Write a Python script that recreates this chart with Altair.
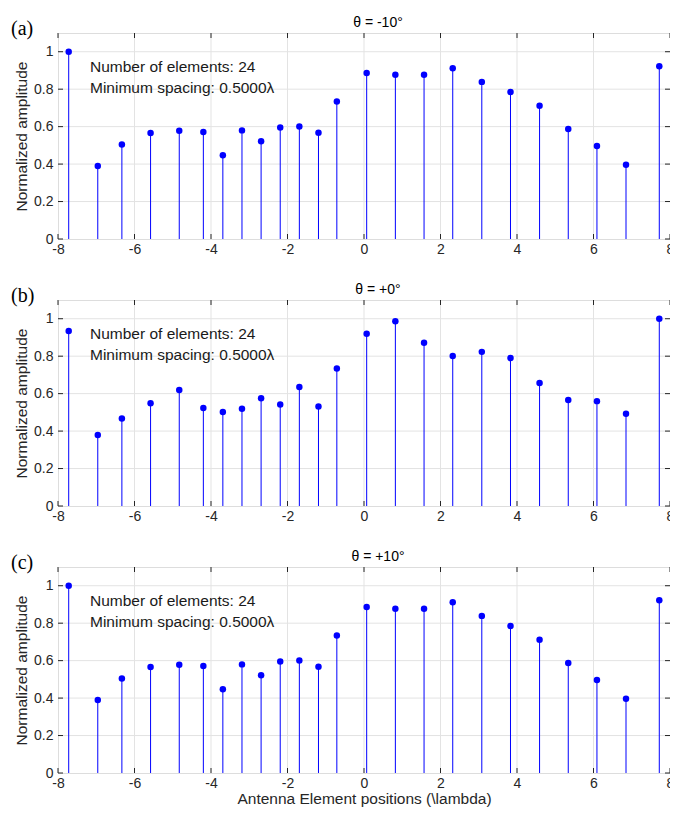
import altair as alt
import pandas as pd

positions = [-7.72, -6.96, -6.33, -5.58, -4.83, -4.20, -3.69, -3.19, -2.69, -2.19, -1.69, -1.19,
             -0.71, 0.07, 0.82, 1.57, 2.32, 3.08, 3.83, 4.59, 5.34, 6.09, 6.85, 7.72]
amp_a = [1.000, 0.390, 0.504, 0.566, 0.578, 0.571, 0.447, 0.580, 0.522, 0.595, 0.601, 0.567,
         0.734, 0.886, 0.877, 0.877, 0.912, 0.839, 0.785, 0.711, 0.587, 0.497, 0.396, 0.923]
amp_b = [0.934, 0.379, 0.467, 0.549, 0.619, 0.523, 0.502, 0.519, 0.575, 0.542, 0.635, 0.531,
         0.734, 0.920, 0.987, 0.872, 0.801, 0.823, 0.790, 0.657, 0.566, 0.560, 0.493, 1.000]
amp_c = [1.000, 0.390, 0.504, 0.566, 0.578, 0.571, 0.447, 0.580, 0.522, 0.595, 0.601, 0.567,
         0.734, 0.886, 0.877, 0.877, 0.912, 0.839, 0.785, 0.711, 0.587, 0.497, 0.396, 0.923]
titles = ["θ = -10°", "θ = +0°", "θ = +10°"]
labels = ["(a)", "(b)", "(c)"]
x_ticks = [-8, -6, -4, -2, 0, 2, 4, 6, 8]
y_ticks = [0, 0.2, 0.4, 0.6, 0.8, 1]
info_lines = ["Number of elements: 24", "Minimum spacing: 0.5000λ"]
x_title = "Antenna Element positions (\\lambda)"
y_title = "Normalized amplitude"

FONT = "Liberation Sans"
W, H = 612, 206
DARK = "#262626"
GRID = "#e3e3e3"


def panel(amps, title, label, last):
    df = pd.DataFrame({"x": positions, "y": amps})
    xscale = alt.Scale(domain=[-8, 8], nice=False)
    yscale = alt.Scale(domain=[0, 1.1], nice=False)
    xenc = alt.X("x:Q", scale=xscale,
                 axis=alt.Axis(values=x_ticks, title=x_title if last else None,
                               labelExpr="'' + datum.value",
                               labelFontSize=14, labelFont=FONT, labelColor=DARK,
                               titleFont=FONT, titleFontSize=15.5, titleFontWeight="normal",
                               titleColor=DARK, titlePadding=1,
                               ticks=False, labelPadding=3, domain=False, grid=False,
                               labelFlush=False))
    yenc = alt.Y("y:Q", scale=yscale,
                 axis=alt.Axis(values=y_ticks, title=y_title,
                               labelExpr="'' + datum.value",
                               labelFontSize=14, labelFont=FONT, labelColor=DARK,
                               titleFont=FONT, titleFontSize=15.5, titleFontWeight="normal",
                               titleColor=DARK, titlePadding=4,
                               ticks=False, labelPadding=5, domain=False, grid=False,
                               labelFlush=False))

    xg = pd.DataFrame({"x": [v for v in x_ticks if -8 < v < 8]})
    yg = pd.DataFrame({"y": [v for v in y_ticks if 0 < v < 1.1]})
    xt = pd.DataFrame({"x": x_ticks})
    yt = pd.DataFrame({"y": y_ticks})

    gridx = alt.Chart(xg).mark_rule(color=GRID, strokeWidth=1).encode(
        x=alt.X("x:Q", scale=xscale), y=alt.value(0), y2=alt.value(H))
    gridy = alt.Chart(yg).mark_rule(color=GRID, strokeWidth=1).encode(
        y=alt.Y("y:Q", scale=yscale), x=alt.value(0), x2=alt.value(W))
    tick_b = alt.Chart(xt).mark_rule(color=DARK, strokeWidth=1).encode(
        x=alt.X("x:Q", scale=xscale), y=alt.value(H), y2=alt.value(H - 5))
    tick_t = alt.Chart(xt).mark_rule(color=DARK, strokeWidth=1).encode(
        x=alt.X("x:Q", scale=xscale), y=alt.value(0), y2=alt.value(5))
    tick_l = alt.Chart(yt).mark_rule(color=DARK, strokeWidth=1).encode(
        y=alt.Y("y:Q", scale=yscale), x=alt.value(0), x2=alt.value(5))
    tick_r = alt.Chart(yt).mark_rule(color=DARK, strokeWidth=1).encode(
        y=alt.Y("y:Q", scale=yscale), x=alt.value(W), x2=alt.value(W - 5))

    base = alt.Chart(df)
    stems = base.mark_rule(color="#0000ff", strokeWidth=1).encode(x=xenc, y=yenc, y2=alt.datum(0))
    dots = base.mark_circle(color="#0000ff", size=42, opacity=1).encode(x="x:Q", y="y:Q")

    info1 = alt.Chart(pd.DataFrame({"t": [info_lines[0]]})).mark_text(
        align="left", baseline="alphabetic", font=FONT, fontSize=15.5, color="#1a1a1a"
    ).encode(x=alt.value(32), y=alt.value(39), text="t:N")
    info2 = alt.Chart(pd.DataFrame({"t": [info_lines[1]]})).mark_text(
        align="left", baseline="alphabetic", font=FONT, fontSize=15.5, color="#1a1a1a"
    ).encode(x=alt.value(32), y=alt.value(60), text="t:N")
    lab = alt.Chart(pd.DataFrame({"t": [label]})).mark_text(
        align="left", baseline="alphabetic", font="Liberation Serif", fontSize=20, color="#000000"
    ).encode(x=alt.value(-47), y=alt.value(2), text="t:N")
    ttl = alt.Chart(pd.DataFrame({"t": [title]})).mark_text(
        align="center", baseline="alphabetic", font=FONT, fontSize=14, color="#000000"
    ).encode(x=alt.value(W / 2 + 14), y=alt.value(-6), text="t:N")

    return alt.layer(gridx, gridy, stems, dots, tick_b, tick_t, tick_l, tick_r,
                     info1, info2, lab, ttl).properties(width=W, height=H)


chart = alt.vconcat(
    panel(amp_a, titles[0], labels[0], False),
    panel(amp_b, titles[1], labels[1], False),
    panel(amp_c, titles[2], labels[2], True),
    spacing=25,
).properties(
    padding={"left": 2, "top": 7, "right": -5, "bottom": 0}
).configure_view(stroke=DARK, strokeWidth=1).configure(background="white")

chart.save("out.html", embed_options={"renderer": "svg", "actions": False})
